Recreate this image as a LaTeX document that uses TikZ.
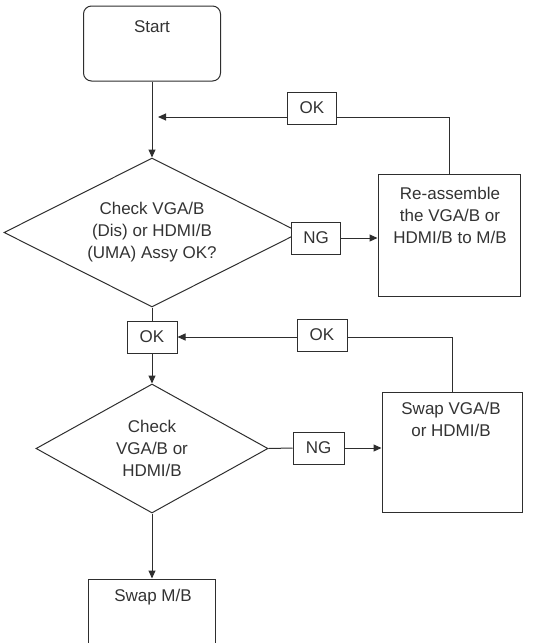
\documentclass[tikz,border=0pt]{standalone}
\usepackage{fontspec}
\setmainfont{Liberation Sans}
\usetikzlibrary{shapes.geometric,arrows.meta}
\begin{document}
\begin{tikzpicture}[x=1pt,y=-1pt,
  conn/.style={draw=black!82, line width=1pt},
  txt/.style={font=\fontsize{17}{22}\selectfont, text=black!80, align=center, inner sep=0pt},
  box/.style={draw=black!82, line width=1pt, rectangle, inner sep=0pt, fill=white},
  tag/.style={box, minimum width=49pt, minimum height=32pt, font=\fontsize{17}{22}\selectfont, text=black!80},
  dia/.style={draw=black!82, line width=1pt, diamond, shape aspect=2, inner sep=0pt, font=\fontsize{17}{22}\selectfont, text=black!80, align=center},
  arr/.style={conn, -{Triangle[length=8pt,width=7pt]}}
]
\useasboundingbox (0,0) rectangle (544,643);
\clip (0,0) rectangle (544,643);

% nodes
\node[box, rounded corners=8pt, minimum width=137pt, minimum height=75pt] (start) at (152,43.5) {};
\node[txt] (starttxt) at (152,27) {Start};

\node[dia, minimum width=296pt, minimum height=149pt] (d1) at (152,232.5)
  {Check VGA/B\\(Dis) or HDMI/B\\(UMA) Assy OK?};

\node[box, minimum width=142pt, minimum height=122pt] (re) at (449,235) {};
\node[txt] (retxt) at (450,215) {Re-assemble\\the VGA/B or\\HDMI/B to M/B};

\node[tag] (ok1) at (312,108) {OK};
\node[tag] (ng1) at (316,238) {NG};
\coordinate (c1) at (158,117);

\node[tag, minimum width=50pt] (ok2) at (152,337) {OK};
\node[tag, minimum width=50pt] (ok3) at (322,335) {OK};

\node[dia, minimum width=232pt, minimum height=129pt] (d2) at (152,448.5)
  {Check\\VGA/B or\\HDMI/B};

\node[tag, minimum width=51pt] (ng2) at (318.5,448) {NG};

\node[box, minimum width=140pt, minimum height=120pt] (sw) at (452,452) {};
\node[txt] (swtxt) at (451,419) {Swap VGA/B\\or HDMI/B};

\node[box, minimum width=127pt, minimum height=100pt] (mb) at (152,629) {};
\node[txt] (mbtxt) at (153,597) {Swap M/B};

% connectors
\draw[arr] (start.south) -- (d1.north);
\draw[conn] (re.north) |- ([yshift=-9pt]ok1.east);
\draw[arr] ([yshift=-9pt]ok1.west) -- (c1);
\draw[arr] (ng1.east) -- (re.west |- ng1.east);
\draw[conn] (d1.south) -- (ok2.north);
\draw[arr] (ok2.south) -- (d2.north);
\draw[conn] (sw.north) |- (ok3.east |- ok2.east);
\draw[arr] (ok3.west |- ok2.east) -- (ok2.east);
\draw[conn] (d2.east) -- (ng2.west);
\draw[arr] (ng2.east) -- (sw.west |- ng2.east);
\draw[arr] (d2.south) -- (mb.north);
\end{tikzpicture}
\end{document}
